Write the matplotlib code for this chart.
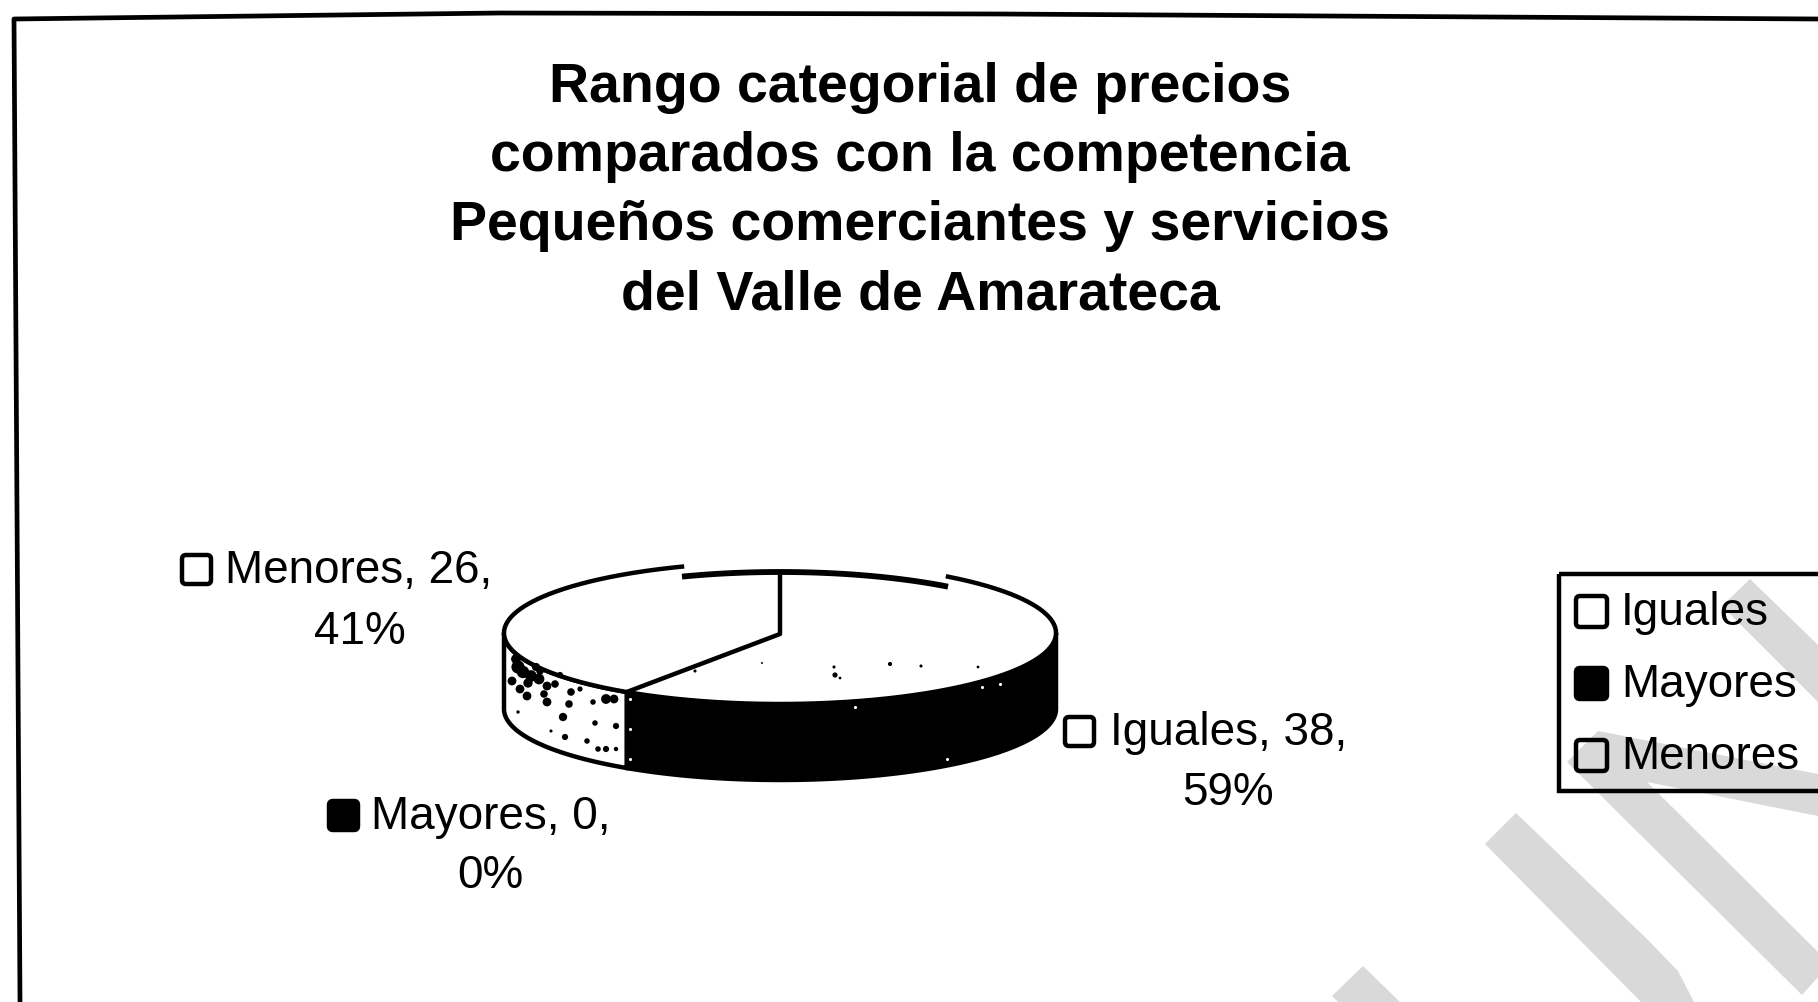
import numpy as np
import matplotlib
matplotlib.use("Agg")
import matplotlib.pyplot as plt
from matplotlib.patches import Polygon, Rectangle, FancyBboxPatch

plt.rcParams['font.family'] = ['Liberation Sans', 'DejaVu Sans']

categories = ["Iguales", "Mayores", "Menores"]
counts = [38, 0, 26]
percent_labels = ["59%", "0%", "41%"]
swatch_colors = ["none", "black", "none"]
title_lines = ["Rango categorial de precios",
               "comparados con la competencia",
               "Pequeños comerciantes y servicios",
               "del Valle de Amarateca"]

W, H = 1818, 1003
fig = plt.figure(figsize=(W / 100, H / 100), dpi=100, facecolor="white")
ax = fig.add_axes([0, 0, 1, 1])
ax.set_xlim(0, W)
ax.set_ylim(H, 0)
ax.axis("off")

# grey diagonal bands behind the chart
WM = "#d9d9d9"
bands = [
    [(1750, 580), (1722, 607), (1818, 703), (1818, 646)],
    [(1598, 732), (1567, 763), (1802, 996), (1818, 978), (1818, 953), (1647, 783),
     (1818, 817), (1818, 775)],
    [(1516, 814), (1485, 845), (1641, 1003), (1694, 1003), (1678, 972), (1647, 940)],
    [(1363, 967), (1332, 997), (1338, 1003), (1400, 1003)],
]
for band in bands:
    ax.add_patch(Polygon(band, closed=True, fc=WM, ec="none", zorder=1))

# outer frame of the chart area
ax.plot([20, 14, 500, 1000, 1818], [1003, 20, 14, 15, 20], color="black", lw=3.4,
        zorder=2, solid_joinstyle="round")

# title block
for text, y in zip(title_lines, [88, 157, 226, 295]):
    ax.text(920, y, text, ha="center", va="center", fontsize=40, fontweight="bold",
            color="black", zorder=5)

# shallow 3D pie disc
cx, cy, rx, ry, depth = 780, 634, 276, 71, 76
total = sum(counts)
start = -90.0
boundary = np.deg2rad(start + 360 * (counts[0] + counts[1]) / total)


def rim(t):
    return cx + rx * np.cos(t), cy + ry * np.sin(t)


def wall_patch(t0, t1, face):
    t = np.linspace(t0, t1, 200)
    x, y = rim(t)
    pts = np.column_stack([np.r_[x, x[::-1]], np.r_[y, y[::-1] + depth]])
    return Polygon(pts, closed=True, fc=face, ec="black", lw=3.2, zorder=3)


ax.add_patch(wall_patch(0, boundary, "black"))
ax.add_patch(wall_patch(boundary, np.pi, "white"))

# top face, filled first, then its outline in two pieces
tt = np.linspace(0, 2 * np.pi, 721)
ax.add_patch(Polygon(np.column_stack(rim(tt)), closed=True, fc="white", ec="none", zorder=4))
gap_a, gap_b = np.arccos((682 - cx) / rx), np.arccos((948 - cx) / rx)
t_main = np.linspace(-gap_b, 2 * np.pi - gap_a, 700)
ax.plot(*rim(t_main), color="black", lw=3.2, zorder=4.5)
xm, ym = rim(np.linspace(-gap_a, -gap_b, 120))
ax.plot(xm, ym + 10, color="black", lw=4.2, zorder=4.5, solid_capstyle="butt")

# slice boundaries on the top face
ax.plot([cx, cx, rim(boundary)[0]], [cy - ry + 10, cy + 1, rim(boundary)[1]],
        color="black", lw=3.2, zorder=4.6)

# print specks on the left wall, the top face and the dark wall
wall_speck_x = [518, 523, 531, 539, 520, 527, 547, 555, 571, 547, 569, 606, 614, 593,
                563, 595, 616, 565, 587, 606, 598, 616, 518, 551,
                512, 516, 536, 544, 560, 580, 528, 540]
wall_speck_y = [668, 673, 677, 680, 690, 697, 687, 685, 693, 703, 705, 700, 700, 703,
                718, 724, 727, 738, 742, 750, 750, 750, 713, 732,
                682, 660, 668, 695, 676, 690, 684, 672]
wall_speck_s = [90, 80, 70, 60, 40, 40, 40, 30, 30, 40, 30, 50, 40, 16,
                36, 16, 20, 20, 16, 20, 16, 10, 6, 5,
                40, 50, 35, 30, 20, 14, 45, 30]
ax.scatter(wall_speck_x, wall_speck_y, s=wall_speck_s, c="black", linewidths=0, zorder=4.7)

top_speck_x = [762, 834, 835, 890, 921, 978, 695, 840]
top_speck_y = [664, 668, 676, 665, 667, 668, 672, 679]
top_speck_s = [2, 5, 14, 9, 5, 4, 5, 4]
ax.scatter(top_speck_x, top_speck_y, s=top_speck_s, c="black", linewidths=0, zorder=4.7)

dark_speck_x = [855, 1000, 982, 947, 630, 630, 630]
dark_speck_y = [708, 685, 688, 760, 700, 730, 760]
ax.scatter(dark_speck_x, dark_speck_y, s=5, c="white", linewidths=0, zorder=4.7)


def swatch(x, y, color, size=29):
    ax.add_patch(FancyBboxPatch((x + 4, y + 4), size - 8, size - 8, boxstyle="round,pad=4",
                                fc=color, ec="black", lw=3.2, zorder=6))


# data labels: name and count on one line, share beneath
label_y = [733, 817, 571]
share_y = [793, 876, 632]
share_x = [1228, 490, 360]
swatch_x = [1065, 329, 182]
text_x = [1110, 371, 225]
for i in range(3):
    ax.text(text_x[i], label_y[i], f"{categories[i]}, {counts[i]},", ha="left", va="center",
            fontsize=33, zorder=6)
    ax.text(share_x[i], share_y[i], percent_labels[i], ha="center", va="center",
            fontsize=33, zorder=6)
    swatch(swatch_x[i], label_y[i] - 15, swatch_colors[i])

# legend box running off the right edge
ax.add_patch(Rectangle((1559, 575), 300, 217, fc="none", ec="black", lw=3.2, zorder=5))
for i, y in enumerate([612, 684, 756]):
    swatch(1576, y - 15, swatch_colors[i], size=31)
    ax.text(1621, y + 1, categories[i], ha="left", va="center", fontsize=33, zorder=6)

fig.savefig("out.png", dpi=100)
